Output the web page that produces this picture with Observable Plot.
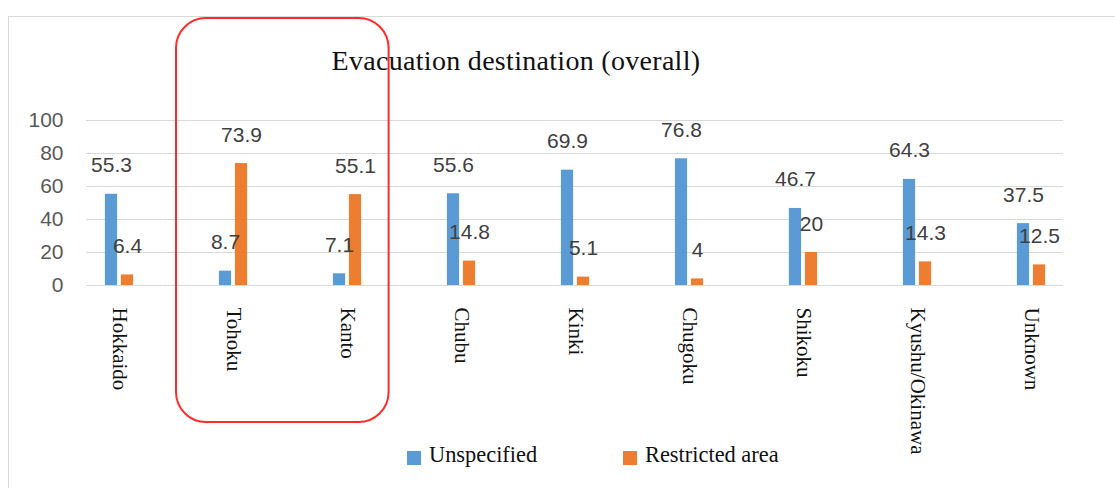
<!DOCTYPE html>
<html>
<head>
<meta charset="utf-8">
<script src="https://cdn.jsdelivr.net/npm/d3@7"></script>
<script src="https://cdn.jsdelivr.net/npm/@observablehq/plot@0.6"></script>
<style>
  html, body { margin: 0; padding: 0; background: #fff; }
  #wrap { position: relative; width: 1115px; height: 488px; overflow: hidden; }
  #border { position: absolute; left: 8px; top: 16px; width: 2000px; height: 1000px; border-top: 1px solid #d9d9d9; border-left: 1px solid #d9d9d9; }
  #chart { position: absolute; left: 0; top: 0; }
  #title { position: absolute; left: 0; top: 46.5px; width: 1032px; text-align: center; font-family: "Liberation Serif", serif; font-size: 28px; line-height: 28px; color: #111; white-space: nowrap; letter-spacing: 0.3px; }
  .sw { position: absolute; width: 14px; height: 14px; top: 451px; }
  .lt { position: absolute; top: 444.3px; font-family: "Liberation Serif", serif; font-size: 22.4px; line-height: 22.4px; color: #111; white-space: nowrap; }
</style>
</head>
<body>
<div id="wrap">
  <div id="border"></div>
  <div id="chart"></div>
  <div id="title"></div>
  <div id="legend"></div>
</div>
<script>
const titleText = "Evacuation destination (overall)";
const regions = ["Hokkaido", "Tohoku", "Kanto", "Chubu", "Kinki", "Chugoku", "Shikoku", "Kyushu/Okinawa", "Unknown"];
const unspecified = [55.3, 8.7, 7.1, 55.6, 69.9, 76.8, 46.7, 64.3, 37.5];
const restricted = [6.4, 73.9, 55.1, 14.8, 5.1, 4, 20, 14.3, 12.5];
const seriesNames = ["Unspecified", "Restricted area"];
const seriesColors = ["#5B9BD5", "#ED7D31"];
const yTicks = [0, 20, 40, 60, 80, 100];
const highlighted = ["Tohoku", "Kanto"];

const rows = regions.map((r, i) => ({region: r, unspecified: unspecified[i], restricted: restricted[i]}));

const bandInset = 50.9;
const labelFont = "Liberation Sans, Arial, sans-serif";

const plot = Plot.plot({
  width: 1115,
  height: 488,
  marginLeft: 86,
  marginRight: 52,
  marginTop: 120,
  marginBottom: 203,
  style: {background: "transparent", overflow: "visible"},
  x: {type: "band", domain: regions, range: [58.1, 1091.4], padding: 0, label: null},
  y: {domain: [0, 100], label: null},
  marks: [
    Plot.gridY(yTicks, {stroke: "#d9d9d9", strokeOpacity: 1, strokeWidth: 1}),
    Plot.axisY(yTicks, {tickSize: 0, tickPadding: 23, fontSize: 21, fontFamily: labelFont, fill: "#595959", label: null}),
    Plot.axisX({tickSize: 0, tickRotate: 90, tickPadding: 22, fontSize: 21, fontFamily: "Liberation Serif, serif", fill: "#111", label: null}),
    Plot.barY(rows, {x: "region", y: "unspecified", fill: seriesColors[0], insetLeft: bandInset, insetRight: bandInset, dx: -8}),
    Plot.barY(rows, {x: "region", y: "restricted", fill: seriesColors[1], insetLeft: bandInset, insetRight: bandInset, dx: 8}),
    Plot.text(rows, {x: "region", y: "unspecified", text: d => String(d.unspecified), dx: -8, dy: -22, lineAnchor: "bottom", fontSize: 21, fontFamily: labelFont, fill: "#404040"}),
    Plot.text(rows, {x: "region", y: "restricted", text: d => String(d.restricted), dx: 8, dy: -22, lineAnchor: "bottom", fontSize: 21, fontFamily: labelFont, fill: "#404040"})
  ]
});
document.getElementById("chart").appendChild(plot);

// highlight box around Tohoku and Kanto, positioned from the x scale
const xs = plot.scale("x");
const bw = xs.bandwidth;
const left = xs.apply(highlighted[0]);
const right = xs.apply(highlighted[1]) + bw * 0.865;
d3.select(plot).append("rect")
  .attr("x", left).attr("y", 18)
  .attr("width", right - left).attr("height", 404)
  .attr("rx", 30).attr("ry", 30)
  .attr("fill", "none").attr("stroke", "#ff2b2b").attr("stroke-width", 2);

document.getElementById("title").textContent = titleText;

const legend = document.getElementById("legend");
const legendX = [407, 623];
seriesNames.forEach((name, i) => {
  const sw = document.createElement("div");
  sw.className = "sw";
  sw.style.left = legendX[i] + "px";
  sw.style.background = seriesColors[i];
  legend.appendChild(sw);
  const t = document.createElement("div");
  t.className = "lt";
  t.style.left = (legendX[i] + 22) + "px";
  t.textContent = name;
  legend.appendChild(t);
});
</script>
</body>
</html>
